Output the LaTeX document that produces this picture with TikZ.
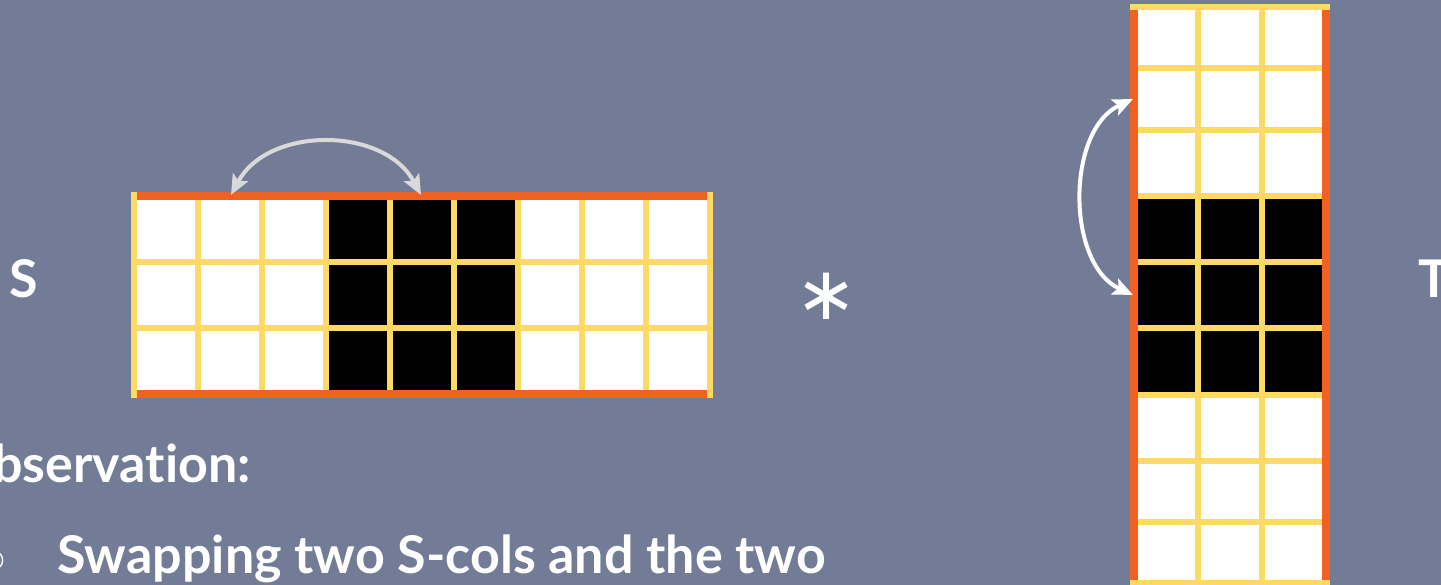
\documentclass[tikz,border=0pt]{standalone}
\usepackage{fontspec}
\setmainfont{Lato}[Ligatures=NoCommon]
\newfontfamily\symfont{DejaVu Sans}
\usetikzlibrary{arrows.meta}
\definecolor{slate}{RGB}{115,124,150}
\definecolor{gridorange}{RGB}{241,97,34}
\definecolor{gridyellow}{RGB}{255,217,102}
\definecolor{swapgray}{RGB}{217,217,217}

\begin{document}
\begin{tikzpicture}[x=1pt, y=-1pt, >={Stealth[length=20pt, width=17pt, inset=4pt]},
  lbl/.style={text=white, font=\fontsize{52}{62}\selectfont\bfseries, inner sep=0pt},
  border/.style={draw=gridorange, line width=8pt},
  rule/.style={draw=gridyellow, line width=6pt},
  swap/.style={<->, line width=4pt}
]
\useasboundingbox (0,0) rectangle (1441,585);
\fill[slate] (0,0) rectangle (1441,585);
\clip (0,0) rectangle (1441,585);

\fill[white] (134,196) rectangle (710,394);
\fill[black] (326,196) rectangle (518,394);
\foreach \x in {198,262,...,646} \draw[rule] (\x,196) -- (\x,394);
\foreach \y in {262,328} \draw[rule] (134,\y) -- (710,\y);
\draw[border] (134,196) -- (710,196);
\draw[border] (134,394) -- (710,394);
\draw[rule] (134,192) -- (134,398);
\draw[rule] (710,192) -- (710,398);

\fill[white] (1134,7) rectangle (1326,583);
\fill[black] (1134,196) rectangle (1326,395);
\foreach \x in {1198,1262} \draw[rule] (\x,7) -- (\x,583);
\foreach \y in {68,130,196,262,328,395,461,522} \draw[rule] (1134,\y) -- (1326,\y);
\draw[border] (1134,7) -- (1134,590);
\draw[border] (1326,7) -- (1326,590);
\draw[rule] (1130,7) -- (1330,7);
\draw[rule] (1130,583) -- (1330,583);

\node[lbl, anchor=base] (slabel) at (24,298) {S};
\node[lbl, anchor=base west] (tlabel) at (1418,298) {T};
\node[text=white, inner sep=0pt, font=\symfont\fontsize{74}{74}\selectfont] (star) at (826,296) {∗};
\node[lbl, anchor=base east] (obs) at (251,482) {Observation:};
\node[lbl, anchor=base east, font=\symfont\bfseries\fontsize{26}{30}\selectfont] (bullet) at (5,567) {○};
\node[lbl, anchor=base west] (swaptext) at (57,573) {Swapping two S-cols and the two};

\coordinate (sl) at (231,195);
\coordinate (sr) at (421,195);
\coordinate (tu) at (1133,99);
\coordinate (td) at (1133,295);
\draw[swap, swapgray] (sl) .. controls (268,126) and (384,126) .. (sr);
\draw[swap, white] (tu) .. controls (1066,130) and (1066,264) .. (td);
\end{tikzpicture}
\end{document}
